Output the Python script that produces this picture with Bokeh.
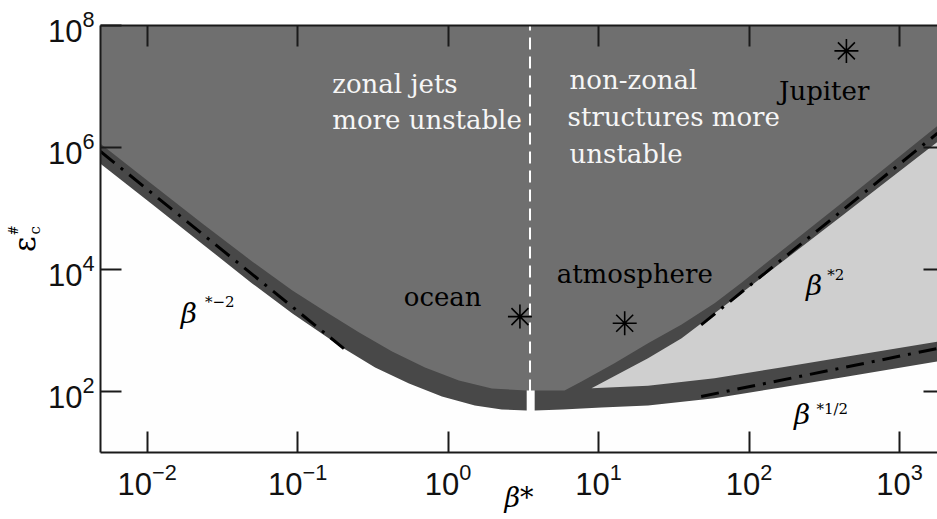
from math import pi
from bokeh.plotting import figure
from bokeh.layouts import row
from bokeh.models import Range1d, LogAxis, FixedTicker, CustomJSTickFormatter, ColumnDataSource
from bokeh.embed import file_html
from bokeh.resources import INLINE
from bokeh.core.properties import value

# ---------------- data ----------------
beta_min, beta_max = 0.0049, 1785.0
eps_min, eps_max = 10.0, 1e8

x_ticks = [1e-2, 1e-1, 1e0, 1e1, 1e2, 1e3]
y_ticks = [1e2, 1e4, 1e6, 1e8]
y_ticks_right = [1e2, 1e4, 1e6]

# left (zonal-jet) branch of the marginal band
top_left_beta = [0.0049, 0.0109, 0.02338, 0.0501, 0.0923, 0.1527, 0.2564, 0.4243, 0.7018, 1.179, 1.951, 3.327]
top_left_eps = [1.15e6, 2.45e5, 5.63e4, 1.344e4, 4505, 2041, 924.6, 451.6, 247.1, 151.4, 112.0, 103.8]
bot_left_beta = [0.0049, 0.0109, 0.02338, 0.0501, 0.0923, 0.1979, 0.3273, 0.5498, 0.9097, 1.505, 2.272, 3.327]
bot_left_eps = [5.41e5, 1.153e5, 2.60e4, 5864, 1892, 525.3, 247.1, 135.2, 82.8, 59.0, 50.7, 48.9]

# right (non-zonal) branch
top_right_beta = [3.759, 5.94, 7.70, 12.74, 21.30, 35.61, 58.92, 88.95, 406.4, 1785]
top_right_eps = [103.8, 103.8, 145.8, 290.6, 617.9, 1250, 2791, 6088, 1.197e5, 2.265e6]
wedge_upper_beta = [8.97, 21.30, 35.61, 58.92, 97.9, 406.4, 1785]
wedge_upper_eps = [113.2, 351.0, 745.9, 1914, 4912, 7.33e4, 1.239e6]
wedge_lower_beta = [8.97, 21.30, 58.92, 162.8, 450.2, 1785]
wedge_lower_eps = [113.2, 124.0, 165.1, 247.1, 374.1, 658.5]
bot_right_beta = [3.759, 5.76, 10.44, 21.30, 58.92, 162.8, 450.2, 1785]
bot_right_eps = [48.9, 50.7, 54.7, 59.0, 77.7, 116.3, 176.1, 309.9]

# asymptotes
asym_m2_beta, asym_m2_eps = [0.0049, 0.203], [8.6e5, 505]
asym_2_beta, asym_2_eps = [48, 1785], [1236, 1.71e6]
asym_half_beta, asym_half_eps = [48, 1785], [83, 507]

# divider between the two regimes
divider_beta, divider_eps = [3.5, 3.5], [48.9, 1e8]

# observed systems: ocean, atmosphere, Jupiter
star_beta = [3.0, 14.9, 443]
star_eps = [1690, 1313, 3.83e7]

# ---------------- colours ----------------
C_WHITE = "#fefefe"
C_MED = "#6f6f6f"
C_BAND = "#484848"
C_LIGHT = "#cfcfcf"

LEFT_W = 44

p = figure(width=937 - LEFT_W, height=519, x_axis_type="log", y_axis_type="log",
           x_range=Range1d(beta_min, beta_max), y_range=Range1d(eps_min, eps_max),
           output_backend="svg", toolbar_location=None,
           min_border_left=98 - LEFT_W, min_border_right=0, min_border_top=25, min_border_bottom=67)
p.outline_line_color = None
p.grid.visible = False
p.background_fill_color = C_WHITE
p.border_fill_color = "white"

# band polygons (region above the band's lower edge), wedge, then medium region
p.patch(bot_left_beta + [bot_left_beta[-1], bot_left_beta[0]],
        bot_left_eps + [eps_max, eps_max], fill_color=C_BAND, line_color=None)
p.patch(bot_right_beta + [bot_right_beta[-1], bot_right_beta[0]],
        bot_right_eps + [eps_max, eps_max], fill_color=C_BAND, line_color=None)
p.patch(wedge_upper_beta + wedge_lower_beta[::-1],
        wedge_upper_eps + wedge_lower_eps[::-1], fill_color=C_LIGHT, line_color=None)
p.patch(top_left_beta + top_right_beta + [beta_max, beta_min],
        top_left_eps + top_right_eps + [eps_max, eps_max], fill_color=C_MED, line_color=None)

# asymptotes (dash-dot)
for bx, ey in [(asym_m2_beta, asym_m2_eps), (asym_2_beta, asym_2_eps), (asym_half_beta, asym_half_eps)]:
    p.line(bx, ey, line_color="black", line_width=3, line_dash="18 8 3 8")

# divider
p.line(divider_beta, divider_eps, line_color="white", line_width=2, line_dash="12 7")

# stars
p.scatter(star_beta, star_eps, marker="asterisk", size=24, line_color="black", line_width=1.6)

# texts inside the plot
SERIF = value("DejaVu Serif")
white_txt = ColumnDataSource(dict(
    x=[0.1699, 0.1699, 6.412, 6.22, 6.412],
    y=[1.116e7, 2.808e6, 1.268e7, 3.179e6, 7.97e5],
    t=["zonal jets", "more unstable", "non-zonal", "structures more", "unstable"]))
p.text("x", "y", text="t", source=white_txt, text_color="#f6f6f6", text_font=SERIF,
       text_font_size="26px", text_align="left", text_baseline="alphabetic")
black_txt = ColumnDataSource(dict(
    x=[157.9, 0.507, 5.26],
    y=[8.47e6, 3593, 8551],
    t=["Jupiter", "ocean", "atmosphere"]))
p.text("x", "y", text="t", source=black_txt, text_color="black", text_font=SERIF,
       text_font_size="26px", text_align="left", text_baseline="alphabetic")

beta_src = ColumnDataSource(dict(x=[0.01671, 238.4, 198.5], y=[1892, 5438, 42.0], t=["β", "β", "β"]))
p.text("x", "y", text="t", source=beta_src, text_color="black", text_font=SERIF,
       text_font_style="italic", text_font_size="28px", text_align="left", text_baseline="alphabetic")
exp_src = ColumnDataSource(dict(x=[0.02423, 330.0, 280.0], y=[2975, 8232, 50.7], t=["*−2", "*2", "*1/2"]))
p.text("x", "y", text="t", source=exp_src, text_color="black", text_font=SERIF,
       text_font_size="15px", text_align="left", text_baseline="alphabetic")

# axes
TICK_FONT = "Liberation Sans"
for ax in p.xaxis + p.yaxis:
    ax.major_tick_in = 21
    ax.major_tick_out = 0
    ax.minor_tick_line_color = None
    ax.axis_line_width = 2
    ax.axis_line_color = "#1a1a1a"
    ax.major_tick_line_width = 2
    ax.major_tick_line_color = "#1a1a1a"
    ax.major_label_text_font = TICK_FONT
    ax.major_label_text_font_size = "31px"
    ax.major_label_text_color = "#111111"
p.xaxis.ticker = FixedTicker(ticks=x_ticks)
p.yaxis.ticker = FixedTicker(ticks=y_ticks)
p.xaxis.major_label_standoff = 10
p.yaxis.major_label_standoff = 6

# x-axis title
p.xaxis.axis_label = "β*"
p.xaxis.axis_label_text_font = "DejaVu Serif"
p.xaxis.axis_label_text_font_style = "italic"
p.xaxis.axis_label_text_font_size = "27px"
p.xaxis.axis_label_text_color = "black"
p.xaxis.axis_label_standoff = -16

top_ax = LogAxis(ticker=FixedTicker(ticks=x_ticks), major_tick_in=21, major_tick_out=0,
                 minor_tick_line_color=None, axis_line_width=2, axis_line_color="#1a1a1a",
                 major_tick_line_width=2, major_tick_line_color="#1a1a1a",
                 formatter=CustomJSTickFormatter(code="return ''"),
                 major_label_text_font_size="0px", major_label_standoff=0)
p.add_layout(top_ax, "above")
right_ax = LogAxis(ticker=FixedTicker(ticks=y_ticks_right), major_tick_in=14, major_tick_out=0,
                   minor_tick_line_color=None, axis_line_color=None,
                   major_tick_line_width=2, major_tick_line_color="#1a1a1a",
                   formatter=CustomJSTickFormatter(code="return ''"),
                   major_label_text_font_size="0px", major_label_standoff=0)
p.add_layout(right_ax, "right")

# ---------------- y-axis title strip (epsilon_c^#) ----------------
lab = figure(width=LEFT_W, height=519, x_range=Range1d(0, LEFT_W), y_range=Range1d(0, 519),
             output_backend="svg", toolbar_location=None, x_axis_location=None, y_axis_location=None,
             min_border_left=0, min_border_right=0, min_border_top=0, min_border_bottom=0)
lab.outline_line_color = None
lab.grid.visible = False
lab.background_fill_color = "white"
lab.border_fill_color = "white"
ylab_parts = ColumnDataSource(dict(x=[23.5, 13.5, 34.5], y=[253.0, 270.0, 270.0],
                                   t=["ε", "#", "c"], s=["30px", "12px", "15px"]))
lab.text("x", "y", text="t", source=ylab_parts, angle=pi / 2, text_font=SERIF,
         text_font_size="s", text_color="black", text_align="center", text_baseline="middle")

layout = row(lab, p, spacing=0)
open("out.html", "w").write(file_html(layout, INLINE))
